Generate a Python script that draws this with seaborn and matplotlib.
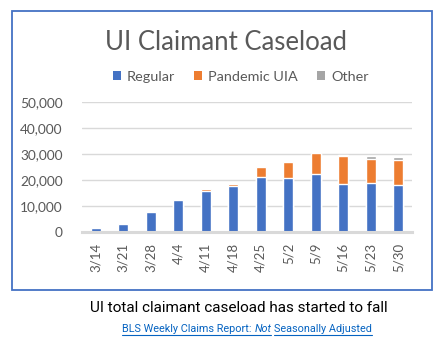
import numpy as np
import pandas as pd
import matplotlib
matplotlib.use("Agg")
import matplotlib.pyplot as plt
from matplotlib.patches import Patch, Rectangle
from matplotlib.lines import Line2D
import seaborn as sns

# Weekly UI claimant caseload by program
weeks = ["3/14", "3/21", "3/28", "4/4", "4/11", "4/18", "4/25", "5/2", "5/9", "5/16", "5/23", "5/30"]
regular = [1500, 3100, 7800, 12200, 15800, 17500, 21200, 20700, 22300, 18500, 18800, 18000]
pandemic_uia = [0, 0, 0, 0, 600, 1000, 3700, 6300, 8200, 10900, 9300, 9800]
other = [0, 0, 0, 0, 0, 0, 0, 0, 0, 200, 1200, 1200]
y_ticks = [0, 10000, 20000, 30000, 40000, 50000]

series_names = ["Regular", "Pandemic UIA", "Other"]
colors = {"Regular": "#4472C4", "Pandemic UIA": "#ED7D31", "Other": "#A5A5A5"}

df = pd.DataFrame({"week": weeks, "Regular": regular,
                   "Pandemic UIA": pandemic_uia, "Other": other})
# cumulative heights so each layer sits on the previous ones
df["cum_regular"] = df["Regular"]
df["cum_pandemic"] = df["cum_regular"] + df["Pandemic UIA"]
df["cum_other"] = df["cum_pandemic"] + df["Other"]

sns.set_theme(style="white")
FONT = "Lato"
plt.rcParams["font.family"] = [FONT, "DejaVu Sans"]
CAPTION_FONT = ["Roboto", "DejaVu Sans"]

W, H = 442, 341
fig = plt.figure(figsize=(W / 100, H / 100), dpi=100)
fig.patch.set_facecolor("white")
fig.canvas.draw()
renderer = fig.canvas.get_renderer()


def fx(px):
    return px / W


def fy(py):
    return 1 - py / H


def size_for_width(s, target_px, **kw):
    """Font size (pt) at which string s renders target_px wide."""
    t = fig.text(0, 0, s, fontsize=10, **kw)
    w = t.get_window_extent(renderer).width
    t.remove()
    return 10 * target_px / w


caption = "UI total claimant caseload has started to fall"
title_fs = size_for_width("UI Claimant Caseload", 241)
ytick_fs = size_for_width("50,000", 43)
xtick_fs = size_for_width("3/14", 29)
legend_fs = size_for_width("Pandemic UIA", 89)
caption_fs = size_for_width(caption, 297, family=CAPTION_FONT)

# chart frame
fig.patches.append(Rectangle((fx(12), fy(289.5)), fx(431.5) - fx(12), fy(10.5) - fy(289.5),
                             transform=fig.transFigure, fill=False,
                             edgecolor="#4472C4", linewidth=1.3, zorder=0))

ax = fig.add_axes([fx(82), fy(231.7), fx(412) - fx(82), fy(102.3) - fy(231.7)])

bar_w = 0.35
for col, name in [("cum_other", "Other"), ("cum_pandemic", "Pandemic UIA"), ("cum_regular", "Regular")]:
    sns.barplot(data=df, x="week", y=col, color=colors[name], width=bar_w,
                saturation=1, ax=ax, zorder=3, order=weeks)

ax.set_ylim(0, 50000)
ax.set_xlim(-0.5, len(weeks) - 0.5)
ax.set_yticks(y_ticks)
ax.set_yticklabels([f"{v:,}" for v in y_ticks])
ax.set_xlabel("")
ax.set_ylabel("")
ax.yaxis.grid(True, color="#D9D9D9", linewidth=1.0, zorder=0)
ax.set_axisbelow(True)
for s in ["top", "right", "left"]:
    ax.spines[s].set_visible(False)
ax.spines["bottom"].set_color("#D9D9D9")
ax.spines["bottom"].set_linewidth(2.2)
ax.spines["bottom"].set_zorder(4)

ax.tick_params(axis="y", length=0, pad=14, labelsize=ytick_fs, labelcolor="#595959")
ax.tick_params(axis="x", which="major", length=0, pad=8, labelsize=xtick_fs,
               labelcolor="#595959", rotation=90)
ax.set_xticks(np.arange(-0.5, len(weeks)), minor=True)
ax.tick_params(axis="x", which="minor", length=4, width=1.5, color="#D9D9D9")

# title and legend
fig.text(fx(226.5), fy(43), "UI Claimant Caseload", ha="center", va="center",
         fontsize=title_fs, color="#595959")
handles = [Patch(facecolor=colors[n], edgecolor="none") for n in series_names]
fig.legend(handles, series_names, loc="center", bbox_to_anchor=(fx(240.5), fy(77)),
           ncol=3, frameon=False, fontsize=legend_fs, handlelength=0.6, handleheight=0.6,
           handletextpad=0.4, columnspacing=1.3, labelcolor="#595959")

# caption below the frame
fig.text(fx(238.5), fy(311.7), caption, ha="center", va="baseline",
         fontsize=caption_fs, color="black", family=CAPTION_FONT)

# source line: underlined link text with an italic word
link_color = "#0563C1"
pieces = [("BLS Weekly Claims Report: ", "normal"), ("Not", "italic"),
          (" ", "normal"), ("Seasonally Adjusted", "normal")]
texts = []
total_px = 0.0
link_fs = 10
for s, style in pieces:
    t = fig.text(0, fy(332), s, ha="left", va="baseline", fontsize=link_fs,
                 color=link_color, style=style, family=CAPTION_FONT)
    texts.append(t)
    total_px += t.get_window_extent(renderer).width
link_fs = link_fs * 250 / total_px
for t in texts:
    t.set_fontsize(link_fs)
widths = [t.get_window_extent(renderer).width / W for t in texts]
x_cur = fx(247) - sum(widths) / 2
underline_y = fy(334.5)
for (s, style), t, w in zip(pieces, texts, widths):
    t.set_x(x_cur)
    if s.strip():
        fig.lines.append(Line2D([x_cur, x_cur + w], [underline_y, underline_y],
                                transform=fig.transFigure, color=link_color, linewidth=0.8))
    x_cur += w

fig.savefig("out.png", dpi=100, facecolor="white")
